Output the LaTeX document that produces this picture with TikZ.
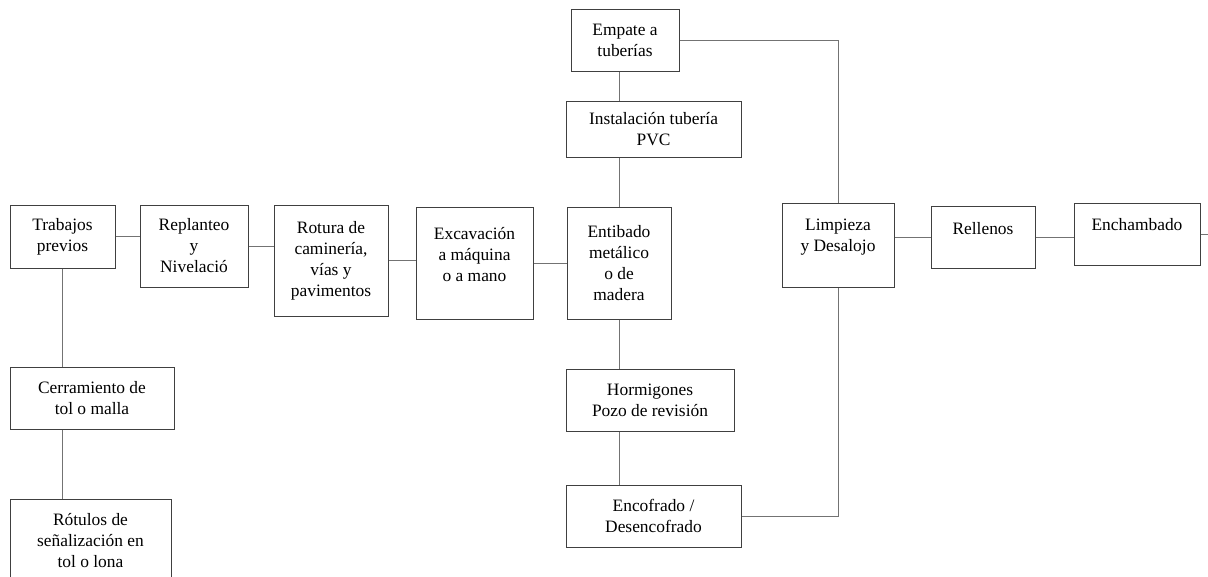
\documentclass[tikz,border=0pt]{standalone}
\usepackage{fontspec}
\setmainfont{Liberation Serif}
\usetikzlibrary{positioning}

\begin{document}
\begin{tikzpicture}
[every node/.style={rectangle,draw=black!75,line width=1pt,align=center,inner sep=0pt,
  font=\fontsize{17.4}{21}\selectfont},x=1pt,y=-1pt,
 lift/.style={text depth=#1},
 link/.style={draw=black!55,line width=1pt}]

\useasboundingbox (0,0) rectangle (1208,576);

%main row
\node[minimum width=105,minimum height=63] (Trabajos) at (62.5,236.5) {Trabajos\\previos};
\node[minimum width=108,minimum height=82] (Replanteo) at (194,246) {Replanteo\\y\\Nivelació};
\node[minimum width=114,minimum height=111] (Rotura) at (331,260.5) {Rotura de\\caminería,\\vías y\\pavimentos};
\node[minimum width=117,minimum height=112,lift=18pt] (Excavacion) at (474.5,263) {Excavación\\a máquina\\o a mano};
\node[minimum width=104,minimum height=112] (Entibado) at (619,263) {Entibado\\metálico\\o de\\madera};
\node[minimum width=112,minimum height=84,lift=20pt] (Limpieza) at (838,245) {Limpieza\\y Desalojo};
\node[minimum width=104,minimum height=62,lift=18pt] (Rellenos) at (983,237) {Rellenos};
\node[minimum width=126,minimum height=62,lift=20pt] (Enchambado) at (1137,234) {Enchambado};

%upper branch
\node[minimum width=108,minimum height=62] (Empate) at (625,40) {Empate a\\tuberías};
\node[minimum width=175,minimum height=56] (Instalacion) at (653.5,129) {Instalación tubería\\PVC};

%lower branch
\node[minimum width=168,minimum height=62] (Hormigones) at (650,400) {Hormigones\\Pozo de revisión};
\node[minimum width=175,minimum height=62] (Encofrado) at (653.5,516) {Encofrado /\\Desencofrado};

%left branch
\node[minimum width=164,minimum height=62] (Cerramiento) at (92,398) {Cerramiento de\\tol o malla};
\node[minimum width=161,minimum height=83] (Rotulos) at (90.5,540.5) {Rótulos de\\señalización en\\tol o lona};

\coordinate (Salida) at (1210,234);

\draw[link] (Trabajos.east) -- (Trabajos.east -| Replanteo.west)
  (Replanteo.east) -- (Replanteo.east -| Rotura.west)
  (Rotura.east) -- (Rotura.east -| Excavacion.west)
  (Excavacion.east) -- (Excavacion.east -| Entibado.west)
  (Rellenos.west -| Limpieza.east) -- (Rellenos.west)
  (Rellenos.east) -- (Rellenos.east -| Enchambado.west)
  (Enchambado.east) -- (Salida);
\draw[link] (Entibado.north) -- (Entibado.north |- Instalacion.south)
  (Entibado.north |- Instalacion.north) -- (Entibado.north |- Empate.south)
  (Empate.east) -| (Limpieza.north);
\draw[link] (Entibado.south) -- (Entibado.south |- Hormigones.north)
  (Entibado.south |- Hormigones.south) -- (Entibado.south |- Encofrado.north)
  (Encofrado.east) -| (Limpieza.south);
\draw[link] (Trabajos.south) -- (Trabajos.south |- Cerramiento.north)
  (Trabajos.south |- Cerramiento.south) -- (Trabajos.south |- Rotulos.north);
\end{tikzpicture}
\end{document}
